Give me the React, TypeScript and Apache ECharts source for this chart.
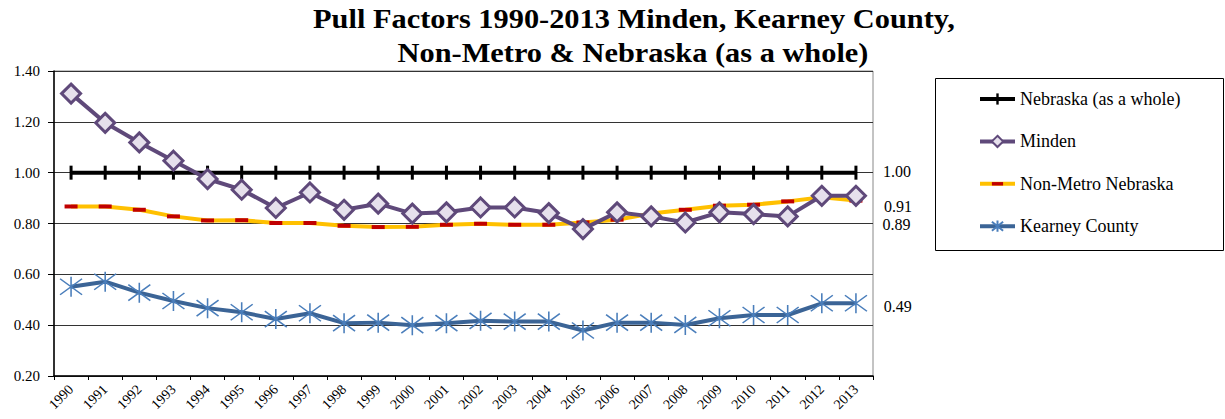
import React, { useEffect, useRef } from "react";
import * as echarts from "echarts";

const years = ["1990","1991","1992","1993","1994","1995","1996","1997","1998","1999","2000","2001","2002","2003","2004","2005","2006","2007","2008","2009","2010","2011","2012","2013"];
const nebraska = [1,1,1,1,1,1,1,1,1,1,1,1,1,1,1,1,1,1,1,1,1,1,1,1];
const minden = [1.311,1.196,1.119,1.047,0.975,0.933,0.861,0.922,0.854,0.878,0.839,0.844,0.863,0.863,0.841,0.778,0.844,0.828,0.804,0.844,0.837,0.828,0.909,0.909];
const nonMetro = [0.867,0.867,0.854,0.828,0.812,0.813,0.802,0.802,0.791,0.786,0.787,0.795,0.799,0.795,0.795,0.804,0.815,0.839,0.854,0.870,0.874,0.887,0.903,0.890];
const kearney = [0.551,0.571,0.528,0.495,0.467,0.451,0.424,0.447,0.408,0.410,0.400,0.408,0.417,0.414,0.414,0.379,0.410,0.410,0.401,0.427,0.440,0.440,0.486,0.486];
const yTicks = [0.2, 1.4, 0.2];
const titleLines = ["Pull Factors 1990-2013 Minden, Kearney County,", "Non-Metro & Nebraska (as a whole)"];

const FONT = "'Liberation Serif', 'Times New Roman', serif";

// square-bounded marker shapes (so the legend icon keeps their proportions)
const PLUS_BAR = "path://M0,0M14,14M5.5,0L8.5,0L8.5,14L5.5,14Z";
const DASH_BAR = "path://M0,0M13,13M0,4.5L13,4.5L13,8.5L0,8.5Z";
const STAR = "path://M11,0L11,20M1,2L21,18M1,18L21,2";

const lastLabel = (dist: number, dy: number) => ({
  show: true,
  position: "right" as const,
  distance: dist,
  offset: [0, dy],
  color: "#000",
  fontFamily: FONT,
  fontSize: 16,
  formatter: (p: any) => (p.dataIndex === years.length - 1 ? Number(p.value).toFixed(2) : ""),
});

export default function App() {
  const ref = useRef<HTMLDivElement>(null);
  useEffect(() => {
    if (!ref.current) return;
    const chart = echarts.init(ref.current, null, { renderer: "svg" });
    chart.setOption({
      animation: false,
      backgroundColor: "#fff",
      graphic: [
        {
          type: "text",
          x: 634,
          y: 18,
          scaleX: 1.085,
          silent: true,
          style: { text: titleLines[0], font: `bold 28px ${FONT}`, fill: "#000", align: "center", verticalAlign: "middle" },
        },
        {
          type: "text",
          x: 633,
          y: 52,
          scaleX: 1.085,
          silent: true,
          style: { text: titleLines[1], font: `bold 28px ${FONT}`, fill: "#000", align: "center", verticalAlign: "middle" },
        },
        {
          type: "rect",
          left: 933,
          top: 76,
          shape: { width: 288, height: 172 },
          style: { fill: "none", stroke: "#000", lineWidth: 1 },
          silent: true,
        },
      ],
      legend: {
        orient: "vertical",
        left: 978,
        top: 90,
        padding: 0,
        itemWidth: 35,
        itemHeight: 14,
        itemGap: 24.4,
        lineStyle: { width: 4 },
        textStyle: { fontFamily: FONT, fontSize: 18, color: "#000", lineHeight: 18 },
        data: ["Nebraska (as a whole)", "Minden", "Non-Metro Nebraska", "Kearney County"],
      },
      grid: {
        left: 54,
        right: 352,
        top: 71,
        bottom: 43,
        show: true,
        borderColor: "#888",
        borderWidth: 1,
        backgroundColor: "transparent",
      },
      xAxis: {
        type: "category",
        data: years,
        boundaryGap: true,
        axisLine: { lineStyle: { color: "#000", width: 1.5 } },
        axisTick: { show: true, length: 4, lineStyle: { color: "#000" } },
        axisLabel: { rotate: 45, fontFamily: FONT, fontSize: 14, color: "#000", margin: 11, interval: 0 },
        splitLine: { show: false },
      },
      yAxis: {
        type: "value",
        min: yTicks[0],
        max: yTicks[1],
        interval: yTicks[2],
        axisLine: { show: true, lineStyle: { color: "#000", width: 1.5 } },
        axisTick: { show: true, length: 6, lineStyle: { color: "#000" } },
        axisLabel: { fontFamily: FONT, fontSize: 15, color: "#000", margin: 14, formatter: (v: number) => v.toFixed(2) },
        splitLine: { show: true, lineStyle: { color: "#333", width: 1 } },
      },
      series: [
        {
          name: "Nebraska (as a whole)",
          type: "line",
          data: nebraska,
          symbol: PLUS_BAR,
          symbolSize: 14,
          lineStyle: { color: "#000", width: 4 },
          itemStyle: { color: "#000" },
          label: lastLabel(20, -1),
          z: 3,
        },
        {
          name: "Minden",
          type: "line",
          data: minden,
          symbol: "diamond",
          symbolSize: 19,
          lineStyle: { color: "#5F497A", width: 4 },
          itemStyle: { color: "#E6E0EC", borderColor: "#5F497A", borderWidth: 3 },
          label: lastLabel(17, 11),
          z: 4,
        },
        {
          name: "Non-Metro Nebraska",
          type: "line",
          data: nonMetro,
          symbol: DASH_BAR,
          symbolSize: 13,
          lineStyle: { color: "#FFC000", width: 4 },
          itemStyle: { color: "#C00000" },
          label: lastLabel(20, 24),
          z: 3,
        },
        {
          name: "Kearney County",
          type: "line",
          data: kearney,
          symbol: STAR,
          symbolSize: [22, 20],
          lineStyle: { color: "#3B6496", width: 4 },
          itemStyle: { color: "transparent", borderColor: "#4A7EBB", borderWidth: 1.5 },
          label: lastLabel(16, 3),
          z: 3,
        },
      ],
    });
    return () => chart.dispose();
  }, []);
  return <div ref={ref} style={{ width: 1225, height: 419, position: "absolute", left: 0, top: 0 }} />;
}
